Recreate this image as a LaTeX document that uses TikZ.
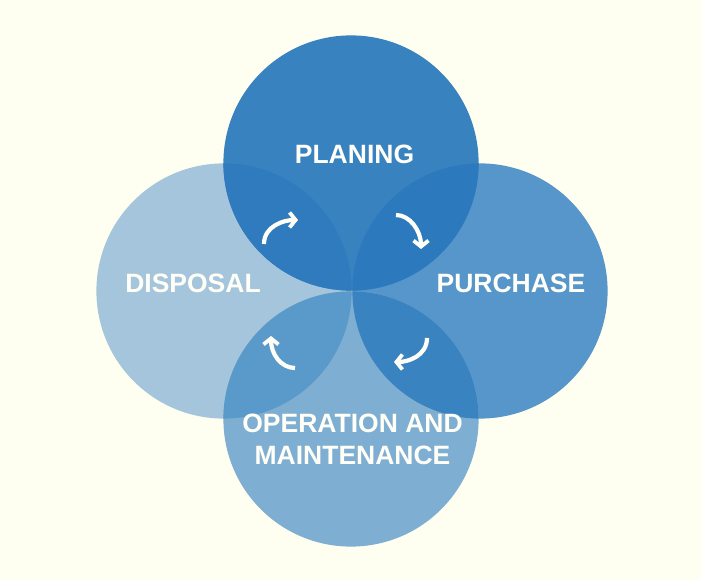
\documentclass[tikz,border=0pt]{standalone}
\usepackage{fontspec}
\setmainfont{Liberation Sans}
\usetikzlibrary{arrows.meta}
\definecolor{bgc}{HTML}{FEFFF0}
\definecolor{ctop}{HTML}{3882C0}
\definecolor{cright}{HTML}{5696CA}
\definecolor{cleft}{HTML}{A4C5DB}
\definecolor{cbottom}{HTML}{7EAED1}
\definecolor{ctl}{HTML}{2F7BBD}
\definecolor{ctr}{HTML}{2C79BD}
\definecolor{crb}{HTML}{3A83C1}
\definecolor{cbl}{HTML}{5A9ACB}
\definecolor{txt}{HTML}{FFFFF8}
\begin{document}
\begin{tikzpicture}[x=1pt,y=1pt,
  lbl/.style={text=txt,font=\fontsize{26.5}{30}\selectfont\bfseries,inner sep=0pt,anchor=base},
  cyc/.style={draw=txt,line width=4.2pt,-{Straight Barb[length=6pt,width=15pt,line width=3.8pt]}}]
\useasboundingbox[fill=bgc] (0,0) rectangle (701,580);
\def\R{127.6}
\coordinate (T) at (351,417);
\coordinate (L) at (224,289);
\coordinate (Rc) at (480,289);
\coordinate (B) at (351,161);
% base circles
\fill[cleft] (L) circle (\R);
\fill[cright] (Rc) circle (\R);
\fill[cbottom] (B) circle (\R);
\fill[ctop] (T) circle (\R);
% lenses
\begin{scope}\clip (T) circle (\R); \fill[ctl] (L) circle (\R); \fill[ctr] (Rc) circle (\R);\end{scope}
\begin{scope}\clip (B) circle (\R); \fill[cbl] (L) circle (\R); \fill[crb] (Rc) circle (\R);\end{scope}
% labels
\node[lbl] (plan) at (354.5,416) {PLANING};
\node[lbl] (disp) at (193,287) {DISPOSAL};
\node[lbl] (purch) at (511,287) {PURCHASE};
\node[lbl] (oper) at (352.5,147) {OPERATION AND};
\node[lbl] (maint) at (352.5,115) {MAINTENANCE};
% cycle arrows
\coordinate (a1) at (264,336); \coordinate (b1) at (298,360);
\coordinate (a2) at (396,365); \coordinate (b2) at (421,331);
\coordinate (a3) at (427,242); \coordinate (b3) at (394,218);
\coordinate (a4) at (295,212); \coordinate (b4) at (271,244);
\draw[cyc] (a1) .. controls +(0,18) and +(-14,0) .. (b1);
\draw[cyc] (a2) .. controls +(14,0) and +(0,18) .. (b2);
\draw[cyc] (a3) .. controls +(0,-18) and +(14,0) .. (b3);
\draw[cyc] (a4) .. controls +(-14,0) and +(0,-18) .. (b4);
\end{tikzpicture}
\end{document}
